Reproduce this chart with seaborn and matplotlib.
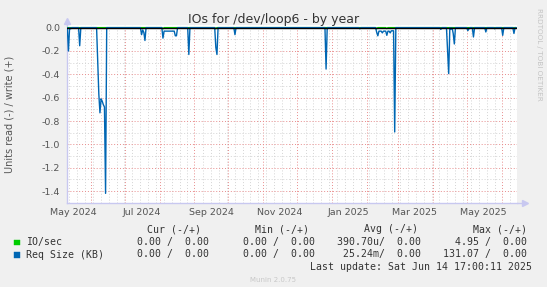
import numpy as np
import pandas as pd
import matplotlib
matplotlib.use("Agg")
import matplotlib.pyplot as plt
import matplotlib.dates as mdates
from matplotlib.ticker import MultipleLocator, FormatStrFormatter, NullFormatter
from matplotlib.patches import Rectangle
import seaborn as sns

# ---------------- data ----------------
title = "IOs for /dev/loop6 - by year"
y_label = "Units read (-) / write (+)"
period_start = "2024-05-10 17:00"
period_end = "2025-06-14 17:00"
day_first = "2024-05-11"
day_last = "2025-06-14"

req_dates = ["2024-05-12", "2024-05-14", "2024-05-22",
             "2024-06-07", "2024-06-08", "2024-06-09", "2024-06-10", "2024-06-11",
             "2024-06-12", "2024-06-13", "2024-06-14",
             "2024-07-16", "2024-07-17", "2024-07-18", "2024-07-19",
             "2024-08-04", "2024-08-05", "2024-08-06", "2024-08-07", "2024-08-08",
             "2024-08-09", "2024-08-10", "2024-08-11", "2024-08-12", "2024-08-13",
             "2024-08-14", "2024-08-15", "2024-08-16",
             "2024-08-27", "2024-09-20", "2024-09-21", "2024-10-07",
             "2024-12-27", "2025-01-26",
             "2025-02-10", "2025-02-11", "2025-02-12", "2025-02-13", "2025-02-14",
             "2025-02-15", "2025-02-16", "2025-02-17", "2025-02-18", "2025-02-19",
             "2025-02-20", "2025-02-21", "2025-02-22", "2025-02-23", "2025-02-24",
             "2025-02-25", "2025-02-26",
             "2025-04-08", "2025-04-14", "2025-04-15", "2025-04-17", "2025-04-19",
             "2025-04-20", "2025-05-02", "2025-05-03", "2025-05-07", "2025-05-18",
             "2025-05-26", "2025-06-02", "2025-06-12"]
req_values = [-0.20, -0.01, -0.155,
              -0.28, -0.57, -0.73, -0.61, -0.63,
              -0.66, -0.68, -1.42,
              -0.06, -0.02, -0.04, -0.11,
              -0.09, -0.03, -0.03, -0.03, -0.03,
              -0.03, -0.03, -0.03, -0.03, -0.03,
              -0.03, -0.07, -0.07,
              -0.23, -0.17, -0.23, -0.06,
              -0.355, -0.01,
              -0.04, -0.07, -0.03, -0.03, -0.03,
              -0.045, -0.03, -0.03, -0.03, -0.066,
              -0.03, -0.03, -0.045, -0.027, -0.027,
              -0.027, -0.894,
              -0.015, -0.20, -0.394, -0.015, -0.05,
              -0.14, -0.026, -0.01, -0.08, -0.037,
              -0.01, -0.066, -0.05]

io_dates = ["2024-08-04", "2024-09-20", "2025-02-10", "2025-02-19"]
io_values = [-0.01, -0.01, -0.01, -0.008]

x_tick_months = ["2024-05", "2024-07", "2024-09", "2024-11", "2025-01", "2025-03", "2025-05"]
x_tick_labels = ["May 2024", "Jul 2024", "Sep 2024", "Nov 2024", "Jan 2025", "Mar 2025", "May 2025"]

series_names = ["IO/sec", "Req Size (KB)"]
series_colors = ["#00cc00", "#0066b3"]
col_headers = ["Cur (-/+)", "Min (-/+)", "Avg (-/+)", "Max (-/+)"]
cur_text = ["0.00 /  0.00", "0.00 /  0.00"]
min_text = ["0.00 /  0.00", "0.00 /  0.00"]
avg_text = ["390.70u/  0.00", "25.24m/  0.00"]
max_text = ["4.95 /  0.00", "131.07 /  0.00"]
last_update = "Last update: Sat Jun 14 17:00:11 2025"
watermark = "Munin 2.0.75"
side_text = "RRDTOOL / TOBI OETIKER"

# ---------------- build frame ----------------
days = pd.date_range(day_first, day_last, freq="D")
req = pd.Series(0.0, index=days)
req.loc[pd.to_datetime(req_dates)] = req_values
io = pd.Series(0.0, index=days)
io.loc[pd.to_datetime(io_dates)] = io_values
df = pd.DataFrame({"date": days, "req": req.values, "io": io.values})

# ---------------- figure ----------------
sns.set_style("white")
plt.rcParams["font.family"] = ["DejaVu Sans"]
plt.rcParams["axes.unicode_minus"] = False

W, H = 547, 287
fig = plt.figure(figsize=(W / 100, H / 100), dpi=100, facecolor="#f0f0f0")
ax_l, ax_r, ax_b, ax_t = 67, 517, 202.7, 25.3
ax = fig.add_axes([ax_l / W, 1 - ax_b / H, (ax_r - ax_l) / W, (ax_b - ax_t) / H])
ax.set_facecolor("white")

x0 = pd.Timestamp(period_start)
x1 = pd.Timestamp(period_end)
ax.set_xlim(x0, x1)
ax.set_ylim(-1.5, 0.02)

red = "#e88c8c"
grey = "#d4d4d4"
dots = (0, (1, 2))

# weekly grey verticals
for d in pd.date_range(x0, x1, freq="W-SUN"):
    if d.day != 1:
        ax.axvline(d, color=grey, lw=0.7, ls=dots, zorder=0)

# monthly red (minor locator) and label ticks mid-month
ax.xaxis.set_minor_locator(mdates.MonthLocator())
ax.xaxis.set_minor_formatter(NullFormatter())
tick_pos = [pd.Timestamp(m + "-01") + pd.Timedelta(days=15) for m in x_tick_months]
ax.set_xticks(tick_pos)
ax.set_xticklabels(x_tick_labels)
ax.grid(which="minor", axis="x", color=red, lw=0.7, ls=dots, zorder=0)

ax.yaxis.set_major_locator(MultipleLocator(0.2))
ax.yaxis.set_minor_locator(MultipleLocator(0.1))
ax.yaxis.set_major_formatter(FormatStrFormatter("%.1f"))
ax.grid(which="major", axis="y", color=red, lw=0.7, ls=dots, zorder=0)
ax.grid(which="minor", axis="y", color=grey, lw=0.7, ls=dots, zorder=0)
ax.grid(which="major", axis="x", visible=False)

ax.tick_params(axis="x", which="major", length=0, pad=4, labelsize=6.8, labelcolor="#555555")
ax.tick_params(axis="x", which="minor", length=3, color=red, width=0.7, direction="out")
ax.tick_params(axis="y", which="major", length=2, color=red, width=0.7, pad=3,
               labelsize=6.8, labelcolor="#555555")
ax.tick_params(axis="y", which="minor", length=2, color=grey, width=0.7)

# data
sns.lineplot(data=df, x="date", y="io", ax=ax, color=series_colors[0], lw=1.0, zorder=3)
sns.lineplot(data=df, x="date", y="req", ax=ax, color=series_colors[1], lw=1.0, zorder=4)
ax.axhline(0, color="black", lw=1.0, zorder=5)
ax.set_xlabel("")
ax.set_ylabel("")

# spines and arrows
axcol = "#c8c8f0"
for s in ["top", "right"]:
    ax.spines[s].set_visible(False)
for s in ["left", "bottom"]:
    ax.spines[s].set_color(axcol)
    ax.spines[s].set_linewidth(1.0)
h_px = ax_b - ax_t
w_px = ax_r - ax_l
ytop = 1 + (ax_t - 20.5) / h_px
xend = 1 + (525 - ax_r) / w_px
ax.plot([0, 0], [1, ytop], transform=ax.transAxes, clip_on=False, color=axcol, lw=1.0)
ax.plot([1, xend], [0, 0], transform=ax.transAxes, clip_on=False, color=axcol, lw=1.0)
ax.plot([0], [ytop], transform=ax.transAxes, clip_on=False, marker="^", ms=4.5, color=axcol, mec=axcol)
ax.plot([xend], [0], transform=ax.transAxes, clip_on=False, marker=">", ms=4.5, color=axcol, mec=axcol)

# texts
def fx(x):
    return x / W

def fy(y):
    return 1 - y / H

fig.text(fx(273.5), fy(19), title, ha="center", va="center", fontsize=9, color="#333333")
fig.text(fx(10), fy(114), y_label, ha="center", va="center", rotation=90, fontsize=7, color="#555555")
fig.text(fx(539), fy(8), side_text, ha="center", va="top", rotation=270, fontsize=5.2, color="#c4c4c4")

mono = "DejaVu Sans Mono"
lf = 7.1
lc = "#333333"
head_right = [200.6, 309, 417.7, 526.9]
val_right = [209.3, 315, 421, 527]
for hx, hd in zip(head_right, col_headers):
    fig.text(fx(hx), fy(229), hd, ha="right", va="center", family=mono, fontsize=lf, color=lc)
row_y = [242.3, 254.5]
for i, name in enumerate(series_names):
    yy = row_y[i]
    fig.patches.append(Rectangle((fx(14), fy(yy + 3)), 5.5 / W, 5.5 / H, transform=fig.transFigure,
                                 facecolor=series_colors[i], edgecolor=series_colors[i], lw=0.3))
    fig.text(fx(26), fy(yy), name, ha="left", va="center", family=mono, fontsize=lf, color=lc)
    for vx, col in zip(val_right, [cur_text, min_text, avg_text, max_text]):
        fig.text(fx(vx), fy(yy), col[i], ha="right", va="center", family=mono, fontsize=lf, color=lc)
fig.text(fx(532), fy(266.8), last_update, ha="right", va="center", family=mono, fontsize=lf, color=lc)
fig.text(fx(272.7), fy(280), watermark, ha="center", va="center", fontsize=5, color="#c8c8c8")

fig.savefig("out.png", dpi=100, facecolor=fig.get_facecolor())
